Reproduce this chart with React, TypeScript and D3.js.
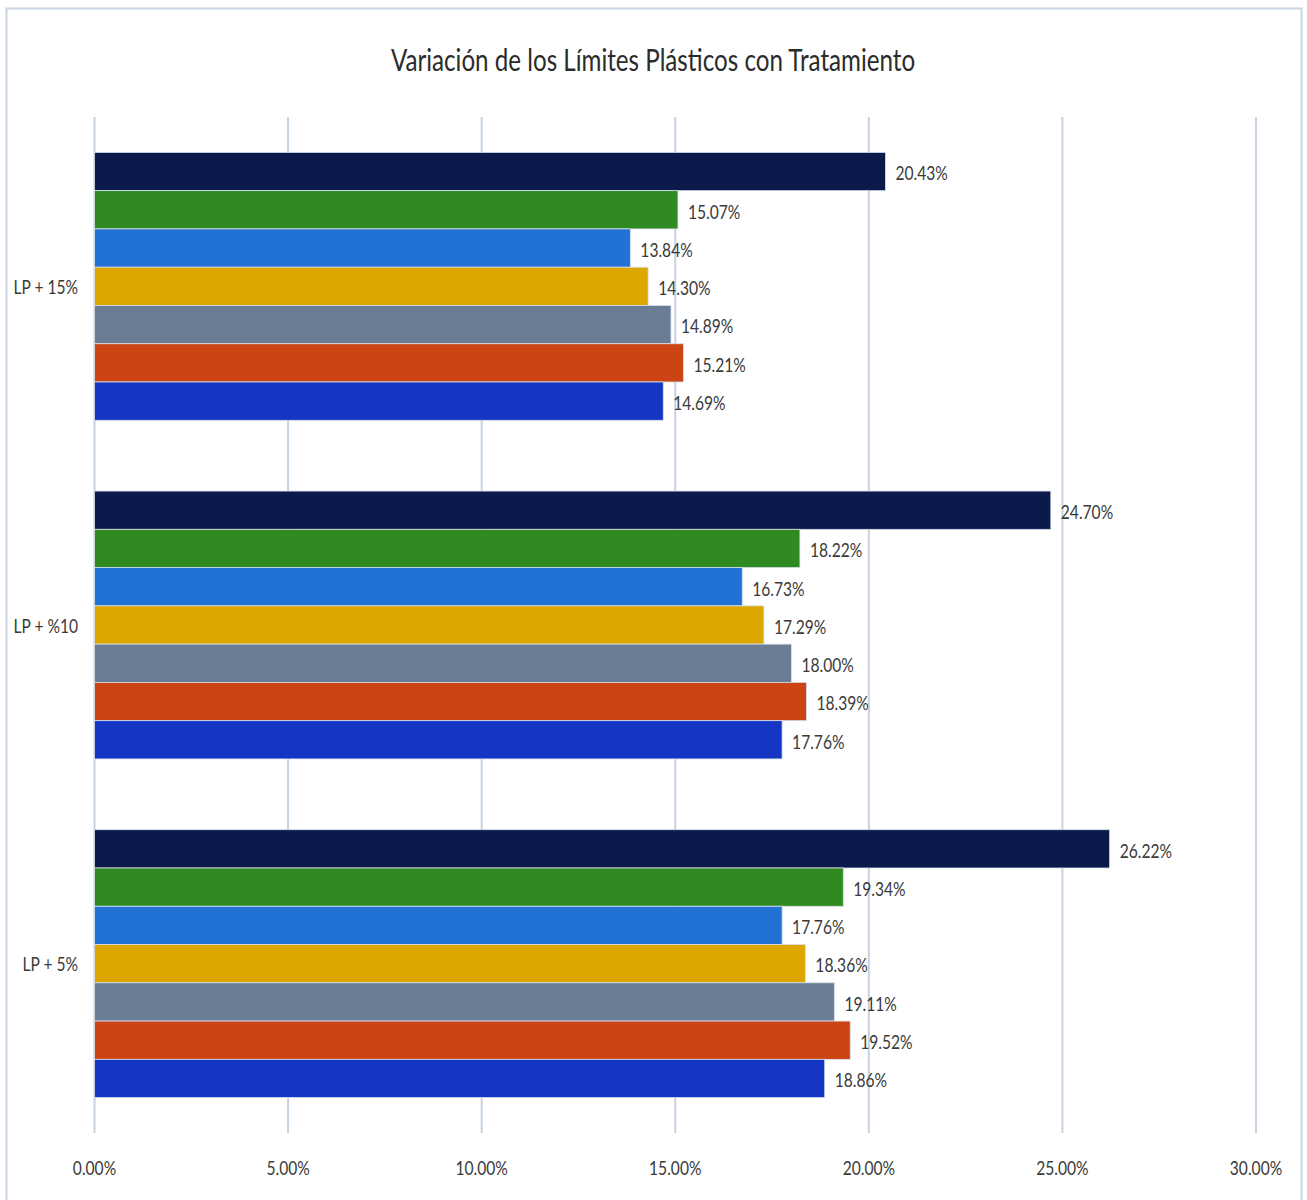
import React from "react";
import * as d3 from "d3";

const categories = ["LP + 15%", "LP + %10", "LP + 5%"];
const seriesNames = ["S1", "S2", "S3", "S4", "S5", "S6", "S7"];
const seriesColors = ["#0B1A4B", "#2E8A21", "#2271D4", "#DDA700", "#6B7D95", "#CC4414", "#1535C3"];
// values per category, in series order (top bar to bottom bar)
const valuesLP15 = [20.43, 15.07, 13.84, 14.3, 14.89, 15.21, 14.69];
const valuesLP10 = [24.7, 18.22, 16.73, 17.29, 18.0, 18.39, 17.76];
const valuesLP5 = [26.22, 19.34, 17.76, 18.36, 19.11, 19.52, 18.86];
const allValues = [valuesLP15, valuesLP10, valuesLP5];
const xTicks = [0, 5, 10, 15, 20, 25, 30];
const title = "Variación de los Límites Plásticos con Tratamiento";

const W = 1307;
const H = 1200;
const FONT = "Lato, 'Open Sans', sans-serif";
const SX = 0.78;

function NarrowText(props: {
  x: number;
  y: number;
  size: number;
  anchor: string;
  fill?: string;
  children: React.ReactNode;
}) {
  return (
    <text
      transform={`translate(${props.x},${props.y}) scale(${SX},1)`}
      fontSize={props.size}
      fontFamily={FONT}
      textAnchor={props.anchor}
      dominantBaseline="central"
      fill={props.fill ?? "#3a3a3a"}
    >
      {props.children}
    </text>
  );
}

export default function App() {
  const x = d3.scaleLinear().domain([0, 30]).range([94.5, 1256]);
  const plotTop = 117;
  const plotBottom = 1133;
  const y = d3
    .scaleBand<string>()
    .domain(categories)
    .range([plotTop, plotBottom])
    .paddingInner(0.209)
    .paddingOuter(0.1045);
  const ys = d3
    .scaleBand<string>()
    .domain(seriesNames)
    .range([0, y.bandwidth()])
    .padding(0);

  return (
    <svg
      width={W}
      height={H}
      style={{ position: "absolute", left: 0, top: 0, display: "block" }}
    >
      <rect x={0} y={0} width={W} height={H} fill="#ffffff" />
      <rect
        x={6.5}
        y={8.5}
        width={1295}
        height={1200}
        fill="#ffffff"
        stroke="#C9D5E3"
        strokeWidth={2}
      />
      <NarrowText x={653} y={59} size={31} anchor="middle" fill="#2b2b2b">
        {title}
      </NarrowText>
      {xTicks.map((t) => (
        <g key={t}>
          <line
            x1={x(t)}
            x2={x(t)}
            y1={plotTop}
            y2={plotBottom}
            stroke="#C5D2E0"
            strokeWidth={2}
          />
          <NarrowText x={x(t)} y={1167} size={20} anchor="middle">
            {`${t.toFixed(2)}%`}
          </NarrowText>
        </g>
      ))}
      {categories.map((c, ci) => {
        const y0 = y(c) as number;
        return (
          <g key={c}>
            <NarrowText x={78} y={y0 + y.bandwidth() / 2} size={20} anchor="end">
              {c}
            </NarrowText>
            {seriesNames.map((s, si) => {
              const v = allValues[ci][si];
              const by = y0 + (ys(s) as number);
              return (
                <g key={s}>
                  <rect
                    x={x(0)}
                    y={by}
                    width={x(v) - x(0)}
                    height={ys.bandwidth()}
                    fill={seriesColors[si]}
                    stroke="#D6E0EC"
                    strokeWidth={0.8}
                  />
                  <NarrowText
                    x={x(v) + 10}
                    y={by + ys.bandwidth() / 2 + 1}
                    size={20}
                    anchor="start"
                  >
                    {`${v.toFixed(2)}%`}
                  </NarrowText>
                </g>
              );
            })}
          </g>
        );
      })}
    </svg>
  );
}
